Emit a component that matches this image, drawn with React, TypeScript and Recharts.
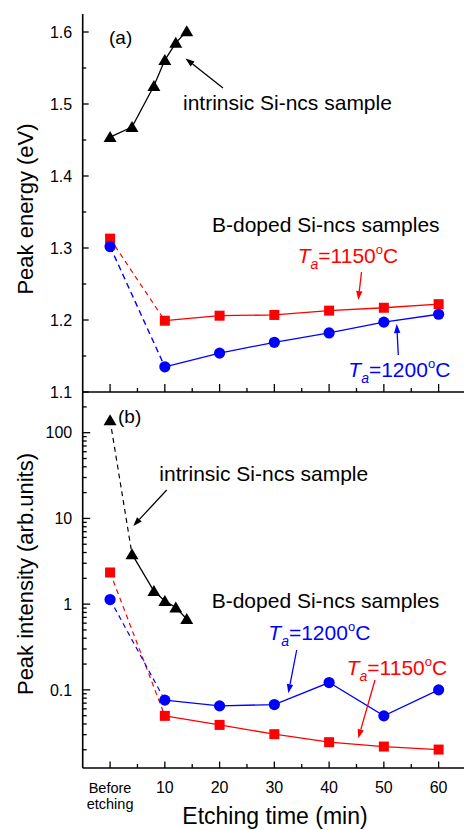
import React from 'react';
import { ComposedChart, Line, XAxis, YAxis } from 'recharts';

const FONT = '"Liberation Sans", Arial, Helvetica, sans-serif';
const RED = '#ff0000';
const BLUE = '#0000ff';
const BLACK = '#000000';

// ---------- data ----------
const etchTimes = [0, 10, 20, 30, 40, 50, 60];
const intrinsicTimes = [0, 4, 8, 10, 12, 14];
const intrinsicEnergy = [1.454, 1.468, 1.525, 1.561, 1.585, 1.601];
const energy1150 = [1.313, 1.199, 1.206, 1.207, 1.213, 1.217, 1.222];
const energy1200 = [1.302, 1.135, 1.154, 1.169, 1.182, 1.197, 1.208];
const intrinsicIntensity = [140, 3.83, 1.42, 1.09, 0.915, 0.67];
const intensity1150 = [2.34, 0.0497, 0.039, 0.0304, 0.0245, 0.0218, 0.0201];
const intensity1200 = [1.13, 0.0758, 0.065, 0.0674, 0.1216, 0.0497, 0.1];

// ---------- ticks ----------
const xMajorTicks = [0, 10, 20, 30, 40, 50, 60];
const xMinorTicks = [5, 15, 25, 35, 45, 55];
const xTickLabels = [['Before', 'etching'], ['10'], ['20'], ['30'], ['40'], ['50'], ['60']];
const energyMajorTicks = [1.1, 1.2, 1.3, 1.4, 1.5, 1.6];
const energyMinorTicks = [1.15, 1.25, 1.35, 1.45, 1.55];
const energyTickLabels = ['1.1', '1.2', '1.3', '1.4', '1.5', '1.6'];
const intensityMajorTicks = [0.1, 1, 10, 100];
const intensityMinorTicks = [
  0.02, 0.03, 0.04, 0.05, 0.06, 0.07, 0.08, 0.09,
  0.2, 0.3, 0.4, 0.5, 0.6, 0.7, 0.8, 0.9,
  2, 3, 4, 5, 6, 7, 8, 9,
  20, 30, 40, 50, 60, 70, 80, 90,
  200,
];
const intensityTickLabels = ['0.1', '1', '10', '100'];

const xDomain: [number, number] = [-5, 65];
const energyDomain: [number, number] = [1.1, 1.625];
const intensityDomain: [number, number] = [0.01225, 298.5];

const rows = (xs: number[], ys: number[]) => xs.map((x, i) => ({ x, y: ys[i] }));

const idxOf = (v: number, arr: number[]) =>
  arr.findIndex((a) => Math.abs(a - v) < 1e-9 * Math.max(1, Math.abs(a)));

const AXIS = { stroke: BLACK, strokeWidth: 1.6 };

// ---------- custom ticks ----------
const xTick = (dir: number, majLen: number, minLen: number, withLabels: boolean) => (p: any) => {
  const { x, y, payload } = p;
  const i = idxOf(payload.value, xMajorTicks);
  const major = i >= 0;
  const len = major ? majLen : minLen;
  return (
    <g>
      <line x1={x} x2={x} y1={y} y2={y + dir * len} stroke={BLACK} strokeWidth={1.3} />
      {withLabels && major
        ? xTickLabels[i].length === 1
          ? (
            <text x={x} y={y + 25} textAnchor="middle" fontSize={16} fontFamily={FONT} fill={BLACK}>
              {xTickLabels[i][0]}
            </text>
          )
          : (
            <text x={x} y={y + 25} textAnchor="middle" fontSize={14.5} fontFamily={FONT} fill={BLACK}>
              <tspan x={x} y={y + 25}>{xTickLabels[i][0]}</tspan>
              <tspan x={x} y={y + 41}>{xTickLabels[i][1]}</tspan>
            </text>
          )
        : null}
    </g>
  );
};

const yTick = (dir: number, majors: number[], labels: string[] | null, majLen: number, minLen: number) => (p: any) => {
  const { x, y, payload } = p;
  const i = idxOf(payload.value, majors);
  const major = i >= 0;
  const len = major ? majLen : minLen;
  return (
    <g>
      <line x1={x} x2={x + dir * len} y1={y} y2={y} stroke={BLACK} strokeWidth={1.3} />
      {labels && major ? (
        <text x={x - 10.5} y={y} dy="0.36em" textAnchor="end" fontSize={16} fontFamily={FONT} fill={BLACK}>
          {labels[i]}
        </text>
      ) : null}
    </g>
  );
};

// ---------- markers ----------
const triDot = (p: any) => {
  const { cx, cy, index } = p;
  if (cx == null || cy == null) return <g key={`t${index}`} />;
  return (
    <polygon
      key={`t${index}`}
      points={`${cx - 6.5},${cy + 5} ${cx + 6.5},${cy + 5} ${cx},${cy - 6}`}
      fill={BLACK}
    />
  );
};
const squareDot = (p: any) => {
  const { cx, cy, index } = p;
  if (cx == null || cy == null) return <g key={`s${index}`} />;
  return <rect key={`s${index}`} x={cx - 5} y={cy - 5} width={10} height={10} fill={RED} />;
};
const circleDot = (p: any) => {
  const { cx, cy, index } = p;
  if (cx == null || cy == null) return <g key={`c${index}`} />;
  return <circle key={`c${index}`} cx={cx} cy={cy} r={5.6} fill={BLUE} />;
};

const xAll = [...xMajorTicks, ...xMinorTicks].sort((a, b) => a - b);
const eAll = [...energyMajorTicks, ...energyMinorTicks].sort((a, b) => a - b);
const iAll = [...intensityMajorTicks, ...intensityMinorTicks].sort((a, b) => a - b);

// ---------- annotations ----------
const Arrow = ({ from, to, color = BLACK }: { from: [number, number]; to: [number, number]; color?: string }) => {
  const [x1, y1] = from;
  const [x2, y2] = to;
  const ang = Math.atan2(y2 - y1, x2 - x1);
  const L = 9;
  const W = 3.2;
  const bx = x2 - L * Math.cos(ang);
  const by = y2 - L * Math.sin(ang);
  const px = -Math.sin(ang) * W;
  const py = Math.cos(ang) * W;
  return (
    <g>
      <line x1={x1} y1={y1} x2={bx} y2={by} stroke={color} strokeWidth={1.3} />
      <polygon points={`${x2},${y2} ${bx + px},${by + py} ${bx - px},${by - py}`} fill={color} />
    </g>
  );
};

const TaLabel = ({ x, y, temp, color }: { x: number; y: number; temp: string; color: string }) => (
  <text x={x} y={y} fontSize={21} fill={color} fontFamily={FONT}>
    <tspan fontStyle="italic">T</tspan>
    <tspan fontStyle="italic" fontSize={14} dy={6}>a</tspan>
    <tspan dy={-6}>{`=${temp}`}</tspan>
    <tspan fontSize={13} dy={-9}>o</tspan>
    <tspan dy={9}>C</tspan>
  </text>
);

export default function App() {
  return (
    <div style={{ position: 'absolute', left: 0, top: 0, width: 464, height: 830, overflow: 'hidden', background: '#fff' }}>
      {/* Panel (a) */}
      <div style={{ position: 'absolute', left: 0, top: 0 }}>
        <ComposedChart width={470} height={400} margin={{ top: 14, right: 4, bottom: 0, left: 0 }}>
          <XAxis dataKey="x" type="number" domain={xDomain} allowDataOverflow ticks={xAll} interval={0}
            height={8} tickSize={0} tickMargin={0} tickLine={false} axisLine={AXIS} tick={xTick(-1, 8, 4, false)} />
          <XAxis xAxisId="top" orientation="top" dataKey="x" type="number" domain={xDomain} allowDataOverflow ticks={xAll}
            interval={0} height={0} tickSize={0} tickMargin={0} tickLine={false} axisLine={AXIS} tick={xTick(1, 6.5, 4, false)} />
          <YAxis dataKey="y" type="number" domain={energyDomain} allowDataOverflow ticks={eAll} interval={0}
            width={82.7} tickSize={0} tickMargin={0} tickLine={false} axisLine={AXIS}
            tick={yTick(1, energyMajorTicks, energyTickLabels, 6, 3.5)} />
          <YAxis yAxisId="right" orientation="right" dataKey="y" type="number" domain={energyDomain} allowDataOverflow
            ticks={eAll} interval={0} width={0} tickSize={0} tickMargin={0} tickLine={false} axisLine={AXIS}
            tick={yTick(-1, energyMajorTicks, null, 6, 3.5)} />

          <Line data={rows(intrinsicTimes, intrinsicEnergy)} dataKey="y" stroke={BLACK} strokeWidth={1.3}
            dot={false} activeDot={false} isAnimationActive={false} />
          <Line data={rows(etchTimes.slice(0, 2), energy1150.slice(0, 2))} dataKey="y" stroke={RED} strokeWidth={1.2}
            strokeDasharray="5 4" dot={false} activeDot={false} isAnimationActive={false} />
          <Line data={rows(etchTimes.slice(1), energy1150.slice(1))} dataKey="y" stroke={RED} strokeWidth={1.3}
            dot={false} activeDot={false} isAnimationActive={false} />
          <Line data={rows(etchTimes.slice(0, 2), energy1200.slice(0, 2))} dataKey="y" stroke={BLUE} strokeWidth={1.4}
            strokeDasharray="6 4" dot={false} activeDot={false} isAnimationActive={false} />
          <Line data={rows(etchTimes.slice(1), energy1200.slice(1))} dataKey="y" stroke={BLUE} strokeWidth={1.3}
            dot={false} activeDot={false} isAnimationActive={false} />

          <Line data={rows(intrinsicTimes, intrinsicEnergy)} dataKey="y" stroke="none" dot={triDot}
            activeDot={false} isAnimationActive={false} />
          <Line data={rows(etchTimes, energy1150)} dataKey="y" stroke="none" dot={squareDot}
            activeDot={false} isAnimationActive={false} />
          <Line data={rows(etchTimes, energy1200)} dataKey="y" stroke="none" dot={circleDot}
            activeDot={false} isAnimationActive={false} />
        </ComposedChart>
      </div>

      {/* Panel (b) */}
      <div style={{ position: 'absolute', left: 0, top: 392 }}>
        <ComposedChart width={470} height={438} margin={{ top: 0, right: 4, bottom: 0, left: 0 }}>
          <XAxis dataKey="x" type="number" domain={xDomain} allowDataOverflow ticks={xAll} interval={0}
            height={62} tickSize={0} tickMargin={0} tickLine={false} axisLine={AXIS} tick={xTick(-1, 6.5, 4, true)} />
          <XAxis xAxisId="top" orientation="top" dataKey="x" type="number" domain={xDomain} allowDataOverflow ticks={xAll}
            interval={0} height={0} tickSize={0} tickMargin={0} tickLine={false} axisLine={AXIS} tick={xTick(1, 5, 3, false)} />
          <YAxis dataKey="y" type="number" scale="log" domain={intensityDomain} allowDataOverflow ticks={iAll} interval={0}
            width={82.7} tickSize={0} tickMargin={0} tickLine={false} axisLine={AXIS}
            tick={yTick(1, intensityMajorTicks, intensityTickLabels, 7.5, 4)} />
          <YAxis yAxisId="right" orientation="right" dataKey="y" type="number" scale="log" domain={intensityDomain}
            allowDataOverflow ticks={iAll} interval={0} width={0} tickSize={0} tickMargin={0} tickLine={false}
            axisLine={AXIS} tick={yTick(-1, intensityMajorTicks, null, 7.5, 4)} />

          <Line data={rows(intrinsicTimes.slice(0, 2), intrinsicIntensity.slice(0, 2))} dataKey="y" stroke={BLACK}
            strokeWidth={1.2} strokeDasharray="5 4" dot={false} activeDot={false} isAnimationActive={false} />
          <Line data={rows(intrinsicTimes.slice(1), intrinsicIntensity.slice(1))} dataKey="y" stroke={BLACK}
            strokeWidth={1.3} dot={false} activeDot={false} isAnimationActive={false} />
          <Line data={rows(etchTimes.slice(0, 2), intensity1150.slice(0, 2))} dataKey="y" stroke={RED} strokeWidth={1.2}
            strokeDasharray="5 4" dot={false} activeDot={false} isAnimationActive={false} />
          <Line data={rows(etchTimes.slice(1), intensity1150.slice(1))} dataKey="y" stroke={RED} strokeWidth={1.3}
            dot={false} activeDot={false} isAnimationActive={false} />
          <Line data={rows(etchTimes.slice(0, 2), intensity1200.slice(0, 2))} dataKey="y" stroke={BLUE} strokeWidth={1.2}
            strokeDasharray="5 4" dot={false} activeDot={false} isAnimationActive={false} />
          <Line data={rows(etchTimes.slice(1), intensity1200.slice(1))} dataKey="y" stroke={BLUE} strokeWidth={1.3}
            dot={false} activeDot={false} isAnimationActive={false} />

          <Line data={rows(intrinsicTimes, intrinsicIntensity)} dataKey="y" stroke="none" dot={triDot}
            activeDot={false} isAnimationActive={false} />
          <Line data={rows(etchTimes, intensity1150)} dataKey="y" stroke="none" dot={squareDot}
            activeDot={false} isAnimationActive={false} />
          <Line data={rows(etchTimes, intensity1200)} dataKey="y" stroke="none" dot={circleDot}
            activeDot={false} isAnimationActive={false} />
        </ComposedChart>
      </div>

      {/* Text annotations */}
      <svg width={464} height={830} style={{ position: 'absolute', left: 0, top: 0, pointerEvents: 'none' }}
        fontFamily={FONT}>
        <text x={109} y={44.3} fontSize={19} fill={BLACK}>(a)</text>
        <text x={183} y={110} fontSize={21} fill={BLACK}>intrinsic Si-ncs sample</text>
        <Arrow from={[223, 88]} to={[185.5, 58.5]} />
        <text x={212} y={232.3} fontSize={21} fill={BLACK}>B-doped Si-ncs samples</text>
        <TaLabel x={297.7} y={263} temp="1150" color={RED} />
        <Arrow from={[361.5, 272]} to={[358.3, 300]} color={RED} />
        <TaLabel x={348.3} y={376.7} temp="1200" color={BLUE} />
        <Arrow from={[398.3, 355]} to={[396.7, 324]} color={BLUE} />

        <text x={118} y={423.3} fontSize={19} fill={BLACK}>(b)</text>
        <text x={159.3} y={480.7} fontSize={21} fill={BLACK}>intrinsic Si-ncs sample</text>
        <Arrow from={[166.7, 490]} to={[133.3, 526]} />
        <text x={211.7} y={608.3} fontSize={21} fill={BLACK}>B-doped Si-ncs samples</text>
        <TaLabel x={268.3} y={640} temp="1200" color={BLUE} />
        <Arrow from={[296.7, 650]} to={[288.3, 693.3]} color={BLUE} />
        <TaLabel x={346.7} y={675} temp="1150" color={RED} />
        <Arrow from={[375, 680]} to={[358.3, 738.3]} color={RED} />

        <text transform="translate(33,209) rotate(-90)" textAnchor="middle" fontSize={22} fill={BLACK}>
          Peak energy (eV)
        </text>
        <text transform="translate(33,574) rotate(-90)" textAnchor="middle" fontSize={22} fill={BLACK}>
          Peak intensity (arb.units)
        </text>
        <text x={275} y={824} textAnchor="middle" fontSize={23} fill={BLACK}>Etching time (min)</text>
      </svg>
    </div>
  );
}
